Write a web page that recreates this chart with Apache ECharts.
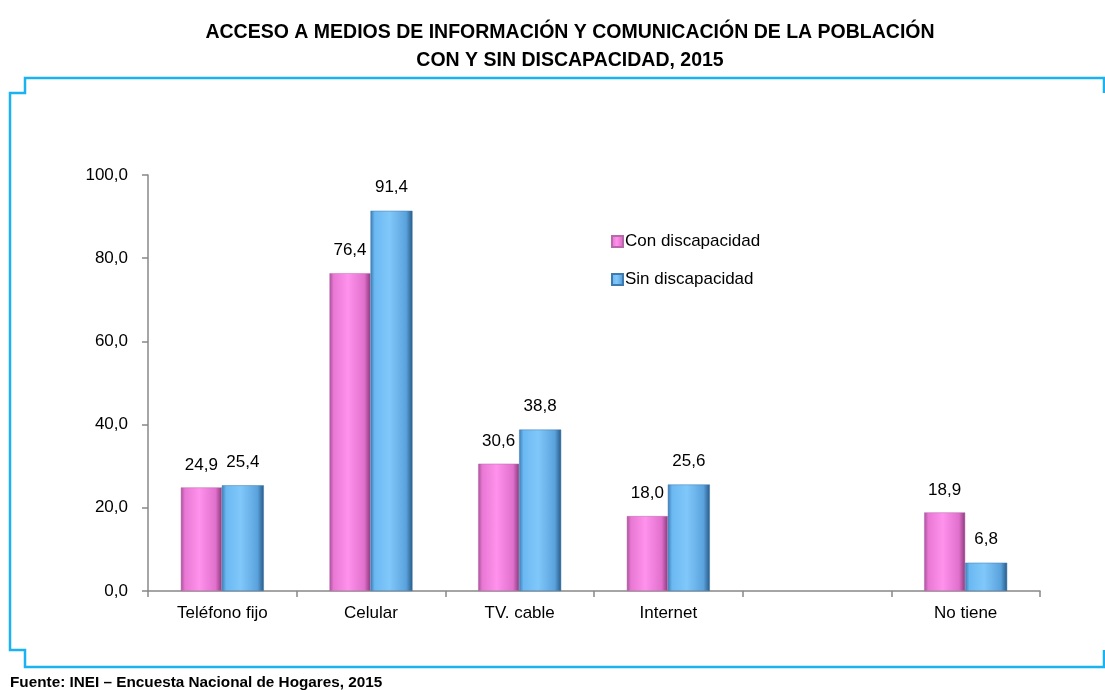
<!DOCTYPE html>
<html>
<head>
<meta charset="utf-8">
<script src="https://cdn.jsdelivr.net/npm/echarts@6/dist/echarts.min.js"></script>
<style>
html,body{margin:0;padding:0;background:#fff;}
#c{width:1105px;height:690px;}
</style>
</head>
<body>
<div id="c"></div>
<script>
var categories = ['Teléfono fijo', 'Celular', 'TV. cable', 'Internet', '', 'No tiene'];
var conDiscapacidad = [24.9, 76.4, 30.6, 18.0, null, 18.9];
var sinDiscapacidad = [25.4, 91.4, 38.8, 25.6, null, 6.8];
var yTicks = [0, 20, 40, 60, 80, 100];
var seriesNames = ['Con discapacidad', 'Sin discapacidad'];

var FONT = '"Liberation Sans Narrow", "Arial Narrow", "Liberation Sans", Arial, sans-serif';

function fmt(v) { return v.toFixed(1).replace('.', ','); }

var pinkGrad = new echarts.graphic.LinearGradient(0, 0, 1, 0, [
  {offset: 0, color: '#A8509A'},
  {offset: 0.1, color: '#E878D3'},
  {offset: 0.45, color: '#FF92EC'},
  {offset: 0.85, color: '#E070CC'},
  {offset: 1, color: '#8A3A7C'}
]);
var blueGrad = new echarts.graphic.LinearGradient(0, 0, 1, 0, [
  {offset: 0, color: '#3C7DB5'},
  {offset: 0.1, color: '#6BB8F2'},
  {offset: 0.45, color: '#80C8FA'},
  {offset: 0.85, color: '#5AA2DC'},
  {offset: 1, color: '#275A86'}
]);

var chart = echarts.init(document.getElementById('c'), null, {renderer: 'canvas'});
chart.setOption({
  animation: false,
  backgroundColor: '#fff',
  title: {
    text: 'ACCESO A MEDIOS DE INFORMACIÓN Y COMUNICACIÓN DE LA POBLACIÓN\nCON Y SIN DISCAPACIDAD, 2015',
    left: 565, top: 14, textAlign: 'center',
    textStyle: {fontFamily: FONT, fontWeight: 'bold', fontSize: 19.5, lineHeight: 28, color: '#000'}
  },
  legend: {
    orient: 'vertical', left: 606, top: 228,
    itemWidth: 11, itemHeight: 11, itemGap: 21,
    icon: 'rect',
    textStyle: {fontFamily: FONT, fontSize: 17, color: '#000', padding: [0, 0, 0, -3]},
    data: seriesNames
  },
  grid: {left: 148, right: 65, top: 175, bottom: 99, containLabel: false},
  xAxis: {
    type: 'category', data: categories,
    axisLine: {lineStyle: {color: '#888', width: 1.5}},
    axisTick: {show: true, length: 6, alignWithLabel: false, lineStyle: {color: '#888', width: 1.5}},
    axisLabel: {fontFamily: FONT, fontSize: 17, color: '#000', margin: 14, interval: 0}
  },
  yAxis: {
    type: 'value', min: 0, max: 100, interval: 20,
    axisLine: {show: true, lineStyle: {color: '#888', width: 1.5}},
    axisTick: {show: true, length: 6, lineStyle: {color: '#888', width: 1.5}},
    splitLine: {show: false},
    axisLabel: {fontFamily: FONT, fontSize: 17, color: '#000', margin: 20,
      formatter: function (v) { return yTicks.indexOf(v) >= 0 ? fmt(v) : ''; }}
  },
  series: [
    {
      name: seriesNames[0], type: 'bar', data: conDiscapacidad,
      barWidth: 41, barGap: '0%',
      itemStyle: {color: pinkGrad, borderColor: '#B86AA8', borderWidth: 0.5},
      label: {show: true, position: 'top', distance: 14, fontFamily: FONT, fontSize: 17, color: '#000',
        formatter: function (p) { return fmt(p.value); }}
    },
    {
      name: seriesNames[1], type: 'bar', data: sinDiscapacidad,
      barWidth: 42, barGap: '0%',
      itemStyle: {color: blueGrad, borderColor: '#3F7AAE', borderWidth: 0.5},
      label: {show: true, position: 'top', distance: 15, fontFamily: FONT, fontSize: 17, color: '#000',
        formatter: function (p) { return fmt(p.value); }}
    }
  ],
  graphic: [
    {
      type: 'polyline', silent: true,
      shape: {points: [[1104, 93], [1104, 78], [25, 78], [25, 93], [10, 93], [10, 650], [25, 650], [25, 667], [1104, 667], [1104, 650]]},
      style: {stroke: '#1AB2F0', lineWidth: 2.5, fill: null}
    },
    {
      type: 'text', left: 10, top: 675, silent: true,
      style: {text: 'Fuente: INEI – Encuesta Nacional de Hogares, 2015', fontFamily: FONT, fontWeight: 'bold', fontSize: 15.3, fill: '#000'}
    }
  ]
});
</script>
</body>
</html>
